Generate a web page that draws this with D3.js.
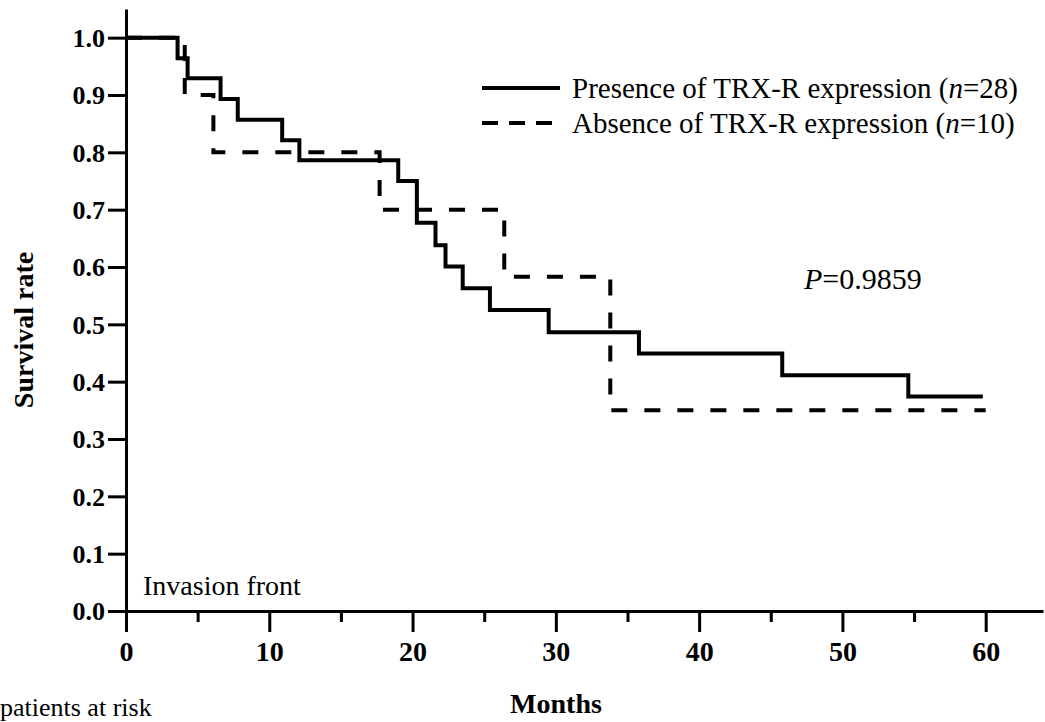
<!DOCTYPE html>
<html>
<head>
<meta charset="utf-8">
<style>
	body { margin: 0; background: #fff; }
	svg { display: block; }
	text { font-family: "Liberation Serif", "Times New Roman", serif; fill: #000; }
	.axis path, .axis line { stroke: #000; stroke-width: 3; }
	.axis text { font-weight: bold; }
</style>
</head>
<body>
<div id="km"></div>

<script src="https://d3js.org/d3.v7.min.js"></script>
<script>

	// months at which each curve steps, and the survival after the step
	var presenceMonths = [0, 3.6, 4.3, 6.6, 7.8, 10.9, 12.1, 19.0, 20.3, 21.6, 22.3, 23.5, 25.4, 29.5, 35.8, 45.8, 54.6, 59.8];
	var presenceSurv   = [1.0, 0.964, 0.929, 0.893, 0.857, 0.821, 0.786, 0.75, 0.677, 0.638, 0.601, 0.563, 0.525, 0.486, 0.449, 0.411, 0.374, 0.374];

	var absenceMonths = [0, 4.1, 6.1, 17.7, 26.4, 33.8, 60];
	var absenceSurv   = [1.0, 0.9, 0.8, 0.7, 0.583, 0.35, 0.35];

	var yTicks = [0, 0.1, 0.2, 0.3, 0.4, 0.5, 0.6, 0.7, 0.8, 0.9, 1.0];
	var xTicks = [0, 5, 10, 15, 20, 25, 30, 35, 40, 45, 50, 55, 60];

	var legendLabels = ["Presence of TRX-R expression (", "Absence of TRX-R expression ("];
	var legendN = ["28", "10"];

	var w = 1045, h = 722;

	var svg = d3.select("#km")
				.append("svg")
				.attr("width", w)
				.attr("height", h);

	// scales
	var x = d3.scaleLinear().domain([0, 64]).range([126, 1043]),
		y = d3.scaleLinear().domain([0, 1.05]).range([611, 9]);

	// y axis
	var yAxis = d3.axisLeft(y)
				  .tickValues(yTicks)
				  .tickFormat(d3.format(".1f"))
				  .tickSize(18)
				  .tickSizeOuter(0)
				  .tickPadding(3);

	var gy = svg.append("g")
		.attr("class", "axis")
		.attr("transform", "translate(126,0)")
		.call(yAxis);
	gy.selectAll("text").style("font-size", "26px").attr("dy", "0.34em");

	// x axis
	var xAxis = d3.axisBottom(x)
				  .tickValues(xTicks)
				  .tickFormat(function(d) { return d % 10 === 0 ? d : ""; })
				  .tickSizeOuter(0)
				  .tickPadding(8);

	var gx = svg.append("g")
		.attr("class", "axis")
		.attr("transform", "translate(0,611)")
		.call(xAxis);
	gx.selectAll(".tick line")
	  .attr("y2", function(d) { return d % 10 === 0 ? 21 : 11; });
	gx.selectAll("text").style("font-size", "28px").attr("y", 30);

	// curves
	var line = d3.line()
				 .x(function(d) { return x(d[0]); })
				 .y(function(d) { return y(d[1]); })
				 .curve(d3.curveStepAfter);

	svg.append("path")
	   .datum(d3.zip(presenceMonths, presenceSurv))
	   .attr("d", line)
	   .attr("fill", "none")
	   .attr("stroke", "#000")
	   .attr("stroke-width", 4);

	svg.append("path")
	   .datum(d3.zip(absenceMonths, absenceSurv))
	   .attr("d", line)
	   .attr("fill", "none")
	   .attr("stroke", "#000")
	   .attr("stroke-width", 4)
	   .attr("stroke-dasharray", "16,17");

	// legend
	var legend = svg.append("g").attr("transform", "translate(482,88)");
	legendLabels.forEach(function(lab, i) {
		legend.append("line")
			  .attr("x1", 0).attr("x2", 78)
			  .attr("y1", i * 35).attr("y2", i * 35)
			  .attr("stroke", "#000")
			  .attr("stroke-width", 4)
			  .attr("stroke-dasharray", i === 0 ? null : "16,11");
		var t = legend.append("text")
			  .attr("x", 90)
			  .attr("y", i * 35 + 10)
			  .style("font-size", "29px");
		t.append("tspan").text(lab);
		t.append("tspan").style("font-style", "italic").text("n");
		t.append("tspan").text("=" + legendN[i] + ")");
	});

	// p value
	var p = svg.append("text")
			   .attr("x", 804)
			   .attr("y", 289)
			   .style("font-size", "30px");
	p.append("tspan").style("font-style", "italic").text("P");
	p.append("tspan").text("=0.9859");

	svg.append("text")
	   .attr("x", 143)
	   .attr("y", 595)
	   .style("font-size", "28px")
	   .text("Invasion front");

	// axis titles
	svg.append("text")
	   .attr("x", 556)
	   .attr("y", 713)
	   .attr("text-anchor", "middle")
	   .style("font-size", "28px")
	   .style("font-weight", "bold")
	   .text("Months");

	svg.append("text")
	   .attr("transform", "translate(33,330) rotate(-90)")
	   .attr("text-anchor", "middle")
	   .style("font-size", "28px")
	   .style("font-weight", "bold")
	   .text("Survival rate");

	// table heading at the bottom edge
	svg.append("text")
	   .attr("x", 0)
	   .attr("y", 716)
	   .style("font-size", "26px")
	   .text("patients at risk");

</script>
</body>
</html>
